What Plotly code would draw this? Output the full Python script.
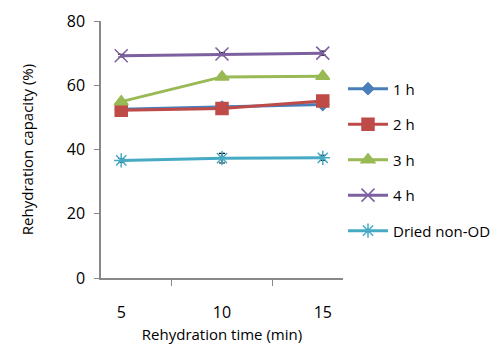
import plotly.graph_objects as go

times = ["5", "10", "15"]
series_names = ["1 h", "2 h", "3 h", "4 h", "Dried non-OD"]
v_1h = [52.5, 53.2, 54.0]
v_2h = [52.2, 52.8, 55.1]
v_3h = [54.9, 62.6, 62.8]
v_4h = [69.2, 69.7, 70.0]
v_dried = [36.6, 37.3, 37.4]
err_1h = [0.5, 0.5, 0.6]
err_2h = [0.5, 0.6, 0.5]
err_3h = [0.6, 0.5, 0.5]
err_4h = [0.4, 0.5, 0.6]
err_dried = [0.6, 1.5, 0.8]

values = [v_1h, v_2h, v_3h, v_4h, v_dried]
errors = [err_1h, err_2h, err_3h, err_4h, err_dried]
colors = ["#4a7ebb", "#be4b48", "#98b954", "#7d60a0", "#46aac5"]
symbols = ["diamond", "square", "triangle-up", "x-thin", "asterisk"]
sizes = [9, 12, 12, 13, 12]

fig = go.Figure()
for name, v, e, c, s, sz in zip(series_names, values, errors, colors, symbols, sizes):
    fig.add_trace(go.Scatter(
        x=times, y=v, name=name, mode="lines+markers",
        legendgroup=name,
        line=dict(color=c, width=3),
        marker=dict(symbol=s, size=sz, color=c, line=dict(color=c, width=1.5)),
        error_y=dict(type="data", array=e, color="black", thickness=1.2, width=3),
    ))

fig.update_layout(
    width=500, height=351,
    margin=dict(l=93, r=161, t=13, b=81),
    plot_bgcolor="white", paper_bgcolor="white",
    font=dict(family="Open Sans, Lato, sans-serif", color="black"),
    showlegend=True,
    legend=dict(x=1.0, y=0.80, xanchor="left", yanchor="top",
                font=dict(size=15), tracegroupgap=13, itemwidth=40,
                borderwidth=0, bgcolor="rgba(0,0,0,0)"),
    xaxis=dict(type="category", tickson="boundaries", ticks="outside", ticklen=6,
               tickcolor="#888", showline=True, linecolor="#888", linewidth=1.5,
               showgrid=False, tickfont=dict(size=16), automargin=False,
               ticklabelstandoff=19,
               title=dict(text="Rehydration time (min)", font=dict(size=15), standoff=8)),
    yaxis=dict(range=[0, 80], dtick=20, ticks="outside", ticklen=5, tickcolor="#888",
               showline=True, linecolor="#888", linewidth=1.5, showgrid=False,
               zeroline=False, tickfont=dict(size=16), automargin=False,
               ticklabelstandoff=6,
               title=dict(text="Rehydration capacity (%)", font=dict(size=15), standoff=30)),
)

fig.write_html("out.html")
